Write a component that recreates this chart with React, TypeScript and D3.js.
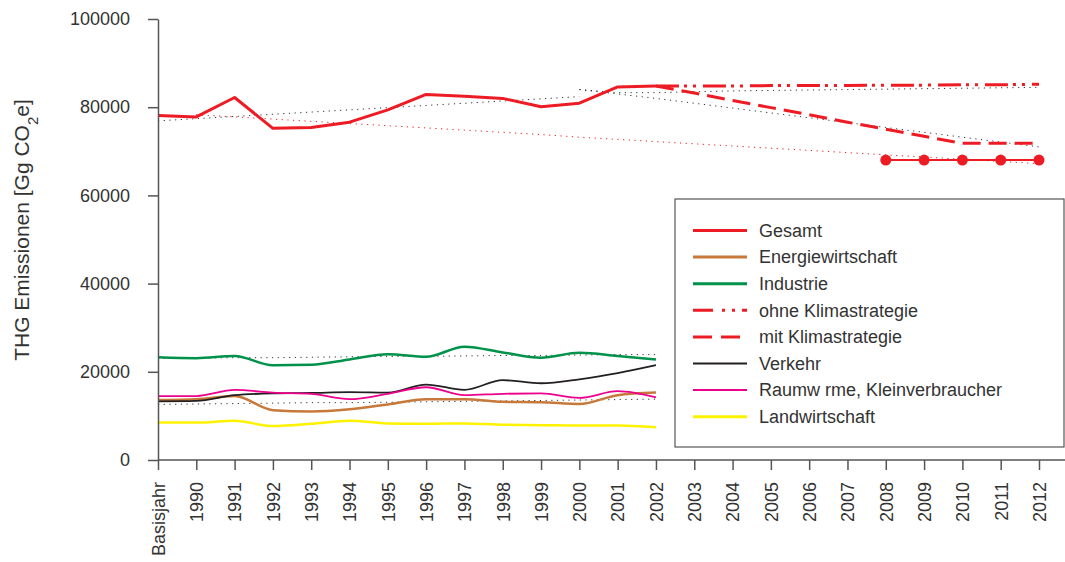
import React, { useEffect, useRef } from 'react';
import * as d3 from 'd3';

const categories = [
  'Basisjahr', '1990', '1991', '1992', '1993', '1994', '1995', '1996', '1997', '1998',
  '1999', '2000', '2001', '2002', '2003', '2004', '2005', '2006', '2007', '2008',
  '2009', '2010', '2011', '2012',
];
const yTicks = [0, 20000, 40000, 60000, 80000, 100000];

// years of each stretch
const histYears = categories.slice(0, 14); // Basisjahr .. 2002
const projYears = categories.slice(13); // 2002 .. 2012
const trendYears = categories.slice(0, 12); // Basisjahr .. 2000
const scenYears = categories.slice(11); // 2000 .. 2012
const targetPathYears = categories.slice(1); // 1990 .. 2012
const kyotoYears = categories.slice(19); // 2008 .. 2012

// measured values [Gg CO2e]
const gesamt = [78100, 77800, 82200, 75200, 75400, 76600, 79400, 82900, 82500, 82000, 80100, 80900, 84600, 84800];
const energiewirtschaft = [13600, 13800, 14500, 11300, 11000, 11500, 12600, 13800, 13800, 13200, 13100, 12700, 14700, 15300];
const industrie = [23300, 23100, 23600, 21500, 21600, 22800, 24000, 23400, 25700, 24400, 23200, 24300, 23600, 22800];
const verkehr = [13300, 13400, 14700, 15100, 15200, 15400, 15300, 17100, 15900, 18100, 17400, 18300, 19700, 21500];
const raumwaerme = [14500, 14500, 15900, 15300, 15000, 13800, 15000, 16500, 14700, 15000, 15100, 14100, 15600, 14200];
const landwirtschaft = [8500, 8500, 8900, 7700, 8200, 8900, 8300, 8200, 8300, 8000, 7900, 7800, 7800, 7400];

// scenarios 2002 .. 2012
const ohneKlima = [84800, 84800, 84800, 84900, 84900, 84900, 85000, 85000, 85100, 85100, 85200];
const mitKlima = [84800, 83200, 81500, 79900, 78300, 76600, 75000, 73400, 71800, 71800, 71800];
const kyotoZiel = [68000, 68000, 68000, 68000, 68000];

// thin dotted guide lines
const dotTrend = [76900, 77400, 77900, 78400, 78900, 79400, 79900, 80400, 80900, 81400, 81900, 82400];
const dotOhne = [84000, 83300, 83300, 83500, 83700, 83800, 83900, 84000, 84100, 84200, 84300, 84400, 84500];
const dotMit = [84000, 83000, 82000, 80900, 79800, 78700, 77600, 76500, 75400, 74300, 73200, 72100, 71000];
const dotZielpfad = [78300, 77800, 77300, 76800, 76300, 75800, 75300, 74800, 74300, 73800, 73200, 72700, 72200,
  71700, 71200, 70700, 70200, 69700, 69200, 68700, 68200, 67700, 67200];
const dotIndustrie = [23000, 23100, 23200, 23200, 23300, 23400, 23500, 23500, 23600, 23700, 23700, 23800, 23900, 23900];
const dotUnten = [12600, 12700, 12800, 12900, 13000, 13000, 13100, 13200, 13300, 13400, 13500, 13600, 13700, 13800];

const legendLabels = [
  'Gesamt', 'Energiewirtschaft', 'Industrie', 'ohne Klimastrategie', 'mit Klimastrategie',
  'Verkehr', 'Raumw rme, Kleinverbraucher', 'Landwirtschaft',
];

const RED = '#ed1c24';
const BROWN = '#c6793a';
const GREEN = '#00924a';
const BLACK = '#231f20';
const MAGENTA = '#ec008c';
const YELLOW = '#fff200';
const FONT = '"Liberation Sans", Arial, sans-serif';

const W = 1065;
const H = 562;

const App = () => {
  const ref = useRef<SVGSVGElement>(null);

  useEffect(() => {
    const svg = d3.select(ref.current);
    svg.selectAll('*').remove();

    const x = d3.scalePoint<string>().domain(categories).range([158, 1039]);
    const y = d3.scaleLinear().domain([0, 100000]).range([460, 19]);

    const draw = (years: string[], vals: number[], color: string, width: number,
      dash: string | null, smooth = false) => {
      const line = d3.line<number>()
        .x((_, i) => x(years[i]) as number)
        .y((d) => y(d))
        .curve(smooth ? d3.curveMonotoneX : d3.curveLinear);
      svg.append('path')
        .attr('d', line(vals))
        .attr('fill', 'none')
        .attr('stroke', color)
        .attr('stroke-width', width)
        .attr('stroke-dasharray', dash)
        .attr('stroke-linejoin', 'round');
    };

    // dotted guides
    const dot = '1.2,4.5';
    draw(trendYears, dotTrend, '#333', 1, dot);
    draw(scenYears, dotOhne, '#333', 1, dot);
    draw(scenYears, dotMit, '#333', 1, dot);
    draw(targetPathYears, dotZielpfad, RED, 1, dot);
    draw(histYears, dotIndustrie, '#333', 1, dot);
    draw(histYears, dotUnten, '#333', 1, dot);

    // sectors
    draw(histYears, landwirtschaft, YELLOW, 2.5, null, true);
    draw(histYears, energiewirtschaft, BROWN, 2.5, null, true);
    draw(histYears, verkehr, BLACK, 1.8, null, true);
    draw(histYears, raumwaerme, MAGENTA, 1.8, null, true);
    draw(histYears, industrie, GREEN, 2.5, null, true);

    // total and scenarios
    draw(histYears, gesamt, RED, 3, null);
    draw(projYears, mitKlima, RED, 3, '18,8');
    draw(projYears, ohneKlima, RED, 3, '23,5,3,6,3,7');
    draw(kyotoYears, kyotoZiel, RED, 2, null);
    svg.append('g').selectAll('circle')
      .data(kyotoZiel)
      .enter()
      .append('circle')
      .attr('cx', (_, i) => x(kyotoYears[i]) as number)
      .attr('cy', (d) => y(d))
      .attr('r', 5.5)
      .attr('fill', RED);

    // axes
    const yAxis = svg.append('g')
      .attr('transform', 'translate(158,0)')
      .call(d3.axisLeft(y).tickValues(yTicks).tickFormat(d3.format('d'))
        .tickSize(10).tickSizeOuter(0).tickPadding(18));
    yAxis.selectAll('line, path').attr('stroke', '#555').attr('stroke-width', 1.5);
    yAxis.selectAll('text').attr('font-size', 18).attr('font-family', FONT).attr('fill', '#333');

    const xAxis = svg.append('g')
      .attr('transform', 'translate(0,460)')
      .call(d3.axisBottom(x).tickSize(10).tickSizeOuter(0));
    xAxis.select('.domain').remove();
    xAxis.selectAll('line').attr('stroke', '#555').attr('stroke-width', 1.5);
    xAxis.selectAll('text')
      .attr('transform', 'rotate(-90)')
      .attr('x', -22)
      .attr('y', 0)
      .attr('dy', '0.35em')
      .style('text-anchor', 'end')
      .attr('font-size', 18)
      .attr('font-family', FONT)
      .attr('fill', '#333');
    svg.append('line')
      .attr('x1', 158).attr('x2', W)
      .attr('y1', 460).attr('y2', 460)
      .attr('stroke', '#555').attr('stroke-width', 1.5);

    // y label
    const label = svg.append('text')
      .attr('transform', 'translate(29,230) rotate(-90)')
      .attr('text-anchor', 'middle')
      .attr('font-size', 21)
      .attr('font-family', FONT)
      .attr('fill', '#333');
    label.append('tspan').text('THG Emissionen [Gg CO');
    label.append('tspan').attr('baseline-shift', 'sub').attr('font-size', 15).text('2');
    label.append('tspan').text('e]');

    // legend
    const leg = svg.append('g');
    leg.append('rect')
      .attr('x', 675).attr('y', 199)
      .attr('width', 389).attr('height', 248)
      .attr('fill', '#fff').attr('stroke', '#555').attr('stroke-width', 1.2);
    const legStyles: [string, number, string | null][] = [
      [RED, 3, null], [BROWN, 3, null], [GREEN, 3, null], [RED, 3, '20,9,3,7,3,7'],
      [RED, 3, '19,9'], [BLACK, 2, null], [MAGENTA, 2, null], [YELLOW, 3, null],
    ];
    legendLabels.forEach((name, i) => {
      const ly = 230.5 + i * 26.6;
      leg.append('line')
        .attr('x1', 693).attr('x2', 747)
        .attr('y1', ly).attr('y2', ly)
        .attr('stroke', legStyles[i][0])
        .attr('stroke-width', legStyles[i][1])
        .attr('stroke-dasharray', legStyles[i][2]);
      leg.append('text')
        .attr('x', 759).attr('y', ly)
        .attr('dy', '0.35em')
        .attr('font-size', 18)
        .attr('font-family', FONT)
        .attr('fill', '#333')
        .text(name);
    });
  }, []);

  return (
    <svg ref={ref} width={W} height={H}
      style={{ position: 'absolute', left: 0, top: 0, background: '#fff' }} />
  );
};

export default App;
